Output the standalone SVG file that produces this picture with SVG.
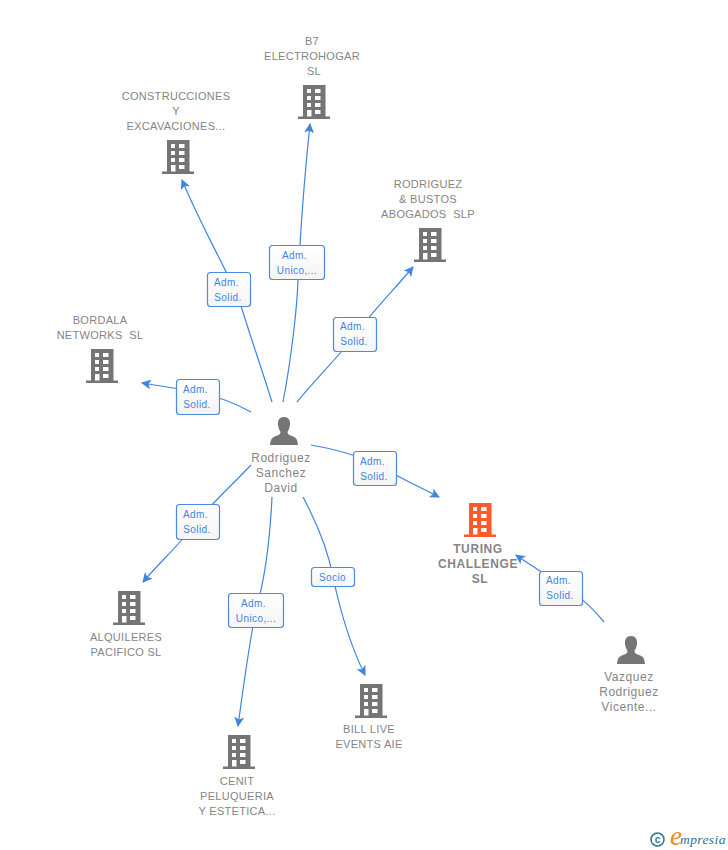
<svg xmlns="http://www.w3.org/2000/svg" width="728" height="850" viewBox="0 0 728 850">
<style>
.n{font-family:"Liberation Sans",Arial,sans-serif;font-size:11px;fill:#858585;text-anchor:middle;letter-spacing:.3px}
.p{font-size:12px;letter-spacing:.55px}
.t{font-weight:700;font-size:12px;letter-spacing:.6px}
.c{fill:none;stroke:#3d85e0;stroke-width:1.2;marker-end:url(#a)}
.b{fill:url(#g);stroke:#4a8ae2;stroke-width:1.2}
.l{font-family:"Liberation Sans",Arial,sans-serif;font-size:10px;fill:#3d85e0;text-anchor:middle;letter-spacing:.4px}
</style>
<defs>
<linearGradient id="g" x1="0" y1="0" x2="0" y2="1"><stop offset="0" stop-color="#fff"/><stop offset="1" stop-color="#f4f4f4"/></linearGradient>
<marker id="a" viewBox="0 0 10 10" refX="9" refY="5" markerWidth="10" markerHeight="10" markerUnits="userSpaceOnUse" orient="auto"><path d="M0 0L10 5L0 10L2.500 5Z" fill="#3d85e0"/></marker>
<symbol id="bld" viewBox="0 0 32 34" overflow="visible">
<path fill-rule="evenodd" d="M5 0H27.500V31.500H32V34H0V31.500H5ZM9 4V8H13V4ZM17 4V8H22.500V4ZM9 11V15H13V11ZM17 11V15H22.500V11ZM9 18V22H13V18ZM17 18V22H22.500V18ZM9 25V31.500H13.500V25ZM17 25V29H22.500V25Z"/>
</symbol>
<symbol id="per" viewBox="0 0 28 28"><path d="M14 0C18.500 0 20.500 3.500 20 8C19.700 11 18.500 13 17.500 15C17.500 17 19 18 22 19C26 20.500 27.500 22 28 28H0C.5 22 2 20.500 6 19C9 18 10.500 17 10.500 15C9.500 13 8.300 11 8 8C7.500 3.500 9.500 0 14 0Z" fill="#757575"/></symbol>
</defs>
<g id="connectors">
<path class="c" d="M272 402C262 370 250 335 241 306C233 280 205 235 182 180"/>
<path class="c" d="M283 402C291 360 297 310 298 280C300 240 303 190 310 124"/>
<path class="c" d="M297 402C315 380 340 355 355 335C372 312 392 292 413 267"/>
<path class="c" d="M251 412C235 403 215 396 198 392C180 389 160 386 142 383"/>
<path class="c" d="M311 445C335 449 355 455 375 463C395 476 418 486 439 497"/>
<path class="c" d="M604 622C590 605 575 592 560 585C547 575 530 565 516 555"/>
<path class="c" d="M251 465C230 487 210 505 197 522C180 544 160 562 143 582"/>
<path class="c" d="M272 497C270 540 266 575 256 610C248 650 243 690 238 726"/>
<path class="c" d="M303 497C318 525 328 550 333 577C340 610 350 645 365 675"/>
</g>
<g id="edge-labels">
<g><rect class="b" x="207.500" y="272.500" width="43" height="34" rx="3"/><text class="l" x="226.500" y="286">Adm.</text><text class="l" x="228" y="301">Solid.</text></g>
<g><rect class="b" x="269.500" y="245.500" width="55" height="34" rx="3"/><text class="l" x="294.500" y="259">Adm.</text><text class="l" x="297" y="274">Unico,...</text></g>
<g><rect class="b" x="333.500" y="317.500" width="43" height="34" rx="3"/><text class="l" x="352.500" y="330">Adm.</text><text class="l" x="354" y="345">Solid.</text></g>
<g><rect class="b" x="176.500" y="379.500" width="43" height="35" rx="3"/><text class="l" x="195.500" y="393">Adm.</text><text class="l" x="197" y="408">Solid.</text></g>
<g><rect class="b" x="353.500" y="451.500" width="43" height="34" rx="3"/><text class="l" x="372.500" y="465">Adm.</text><text class="l" x="374" y="480">Solid.</text></g>
<g><rect class="b" x="539.500" y="571.500" width="43" height="34" rx="3"/><text class="l" x="558.500" y="584">Adm.</text><text class="l" x="560" y="599">Solid.</text></g>
<g><rect class="b" x="176.500" y="504.500" width="43" height="35" rx="3"/><text class="l" x="195.500" y="518">Adm.</text><text class="l" x="197" y="533">Solid.</text></g>
<g><rect class="b" x="228.500" y="593.500" width="55" height="34" rx="3"/><text class="l" x="253.500" y="607">Adm.</text><text class="l" x="256" y="622">Unico,...</text></g>
<g><rect class="b" x="311.500" y="567.500" width="43" height="19" rx="3"/><text class="l" x="332.500" y="581">Socio</text></g>
</g>
<g id="n-b7"><use href="#bld" x="298" y="85" width="32" height="34" fill="#757575"/><text class="n" x="312" y="45">B7</text><text class="n" x="312" y="60">ELECTROHOGAR</text><text class="n" x="314" y="75">SL</text></g>
<g id="n-construcciones"><use href="#bld" x="162" y="140" width="32" height="34" fill="#757575"/><text class="n" x="176" y="100">CONSTRUCCIONES</text><text class="n" x="176" y="115">Y</text><text class="n" x="176" y="130">EXCAVACIONES...</text></g>
<g id="n-rodriguez-bustos"><use href="#bld" x="414" y="228" width="32" height="34" fill="#757575"/><text class="n" x="428" y="188">RODRIGUEZ</text><text class="n" x="428" y="203">&amp; BUSTOS</text><text class="n" x="428" y="218" xml:space="preserve">ABOGADOS  SLP</text></g>
<g id="n-bordala"><use href="#bld" x="86" y="349" width="32" height="34" fill="#757575"/><text class="n" x="100" y="324">BORDALA</text><text class="n" x="100" y="339" xml:space="preserve">NETWORKS  SL</text></g>
<g id="n-turing"><use href="#bld" x="464" y="503" width="32" height="34" fill="#ff5a2c"/><text class="n t" x="478" y="553">TURING</text><text class="n t" x="478" y="568">CHALLENGE</text><text class="n t" x="480" y="583">SL</text></g>
<g id="n-alquileres"><use href="#bld" x="113" y="591" width="32" height="34" fill="#757575"/><text class="n" x="126" y="641">ALQUILERES</text><text class="n" x="126" y="656">PACIFICO SL</text></g>
<g id="n-cenit"><use href="#bld" x="223" y="735" width="32" height="34" fill="#757575"/><text class="n" x="237" y="785">CENIT</text><text class="n" x="237" y="800">PELUQUERIA</text><text class="n" x="237" y="815">Y ESTETICA...</text></g>
<g id="n-billlive"><use href="#bld" x="355" y="684" width="32" height="34" fill="#757575"/><text class="n" x="369" y="733">BILL LIVE</text><text class="n" x="369" y="748">EVENTS AIE</text></g>
<g id="n-david"><use href="#per" x="270" y="417" width="28" height="28"/><text class="n p" x="281" y="462">Rodriguez</text><text class="n p" x="281" y="477">Sanchez</text><text class="n p" x="281" y="492">David</text></g>
<g id="n-vicente"><use href="#per" x="617" y="636" width="28" height="28"/><text class="n p" x="629" y="681">Vazquez</text><text class="n p" x="629" y="696">Rodriguez</text><text class="n p" x="629" y="711">Vicente...</text></g>
<g id="logo"><circle cx="657.500" cy="839.500" r="6.500" fill="none" stroke="#33708a" stroke-width="1.500"/><text x="657.500" y="843" font-family="'Liberation Sans',sans-serif" font-size="10" font-weight="700" fill="#33708a" text-anchor="middle">c</text><text x="670" y="845" font-family="'Liberation Serif',serif" font-size="27" font-style="italic" fill="#f08a1d">e</text><text x="680" y="844" font-family="'Liberation Serif',serif" font-size="13.500" font-style="italic" fill="#2d6f8c" letter-spacing=".4">mpresia</text></g>
</svg>
